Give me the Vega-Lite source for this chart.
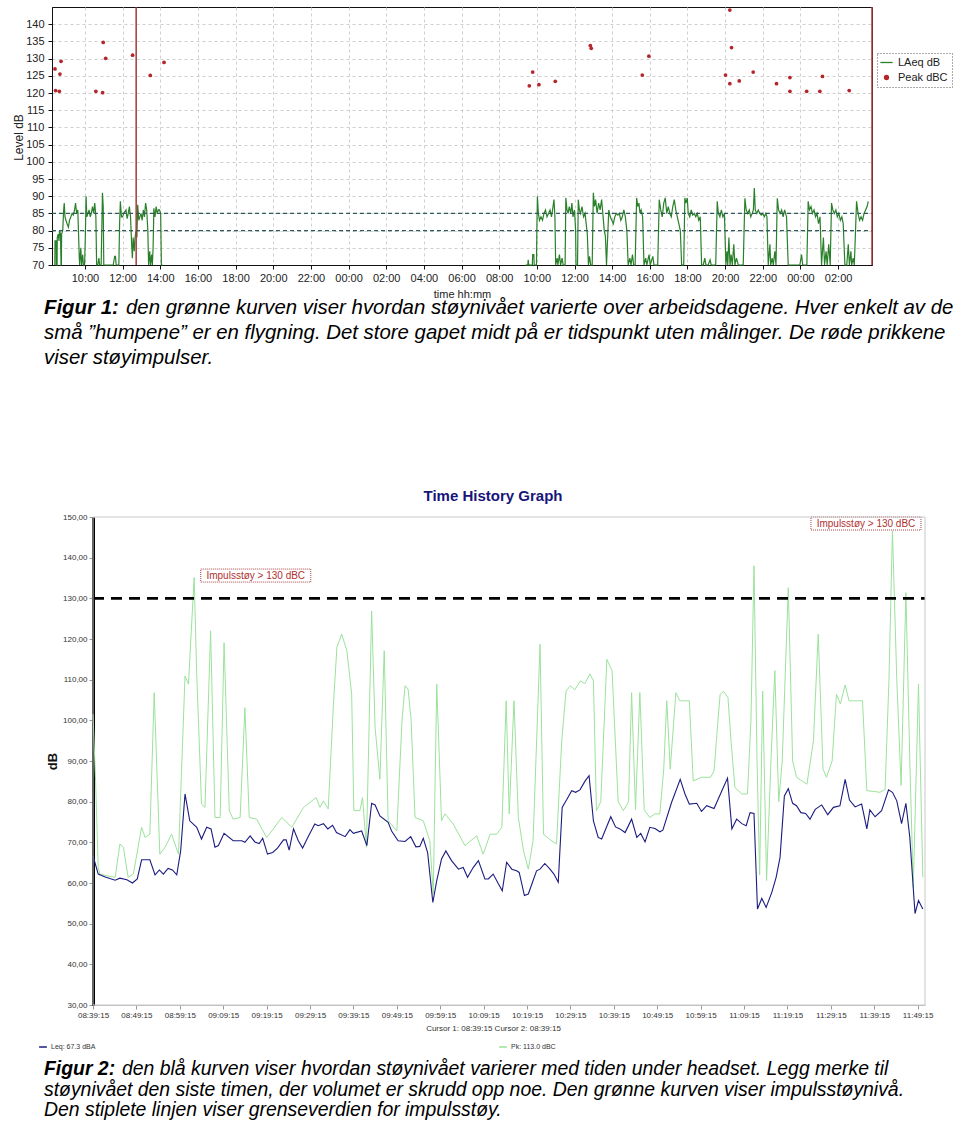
{
  "$schema": "https://vega.github.io/schema/vega-lite/v6.json",
  "background": "white",
  "padding": {"left": 11, "top": 5, "right": 0, "bottom": 0},
  "spacing": 0,
  "bounds": "flush",
  "resolve": {"scale": {"color": "independent"}, "legend": {"color": "independent"}},
  "config": {
    "font": "Liberation Sans",
    "view": {"stroke": null},
    "axis": {"labelFont": "Liberation Sans", "titleFont": "Liberation Sans"},
    "legend": {"labelFont": "Liberation Sans"},
    "title": {"font": "Liberation Sans"},
    "concat": {"spacing": 0}
  },
  "datasets": {
    "laeq": [
      {"h":8.40,"v":70,"s":1},{"h":8.41,"v":77,"s":1},{"h":8.47,"v":77,"s":1},{"h":8.48,"v":70,"s":1},{"h":8.52,"v":70,"s":1},{"h":8.53,"v":78,"s":1},{"h":8.58,"v":79,"s":1},{"h":8.62,"v":77,"s":1},{"h":8.65,"v":80,"s":1},{"h":8.70,"v":79,"s":1},{"h":8.73,"v":70,"s":1},{"h":8.75,"v":70,"s":1},{"h":8.76,"v":79,"s":1},{"h":8.82,"v":80,"s":1},{"h":8.87,"v":86,"s":1},{"h":8.90,"v":88,"s":1},{"h":8.94,"v":84,"s":1},{"h":8.99,"v":83,"s":1},{"h":9.05,"v":82,"s":1},{"h":9.12,"v":81,"s":1},{"h":9.18,"v":83,"s":1},{"h":9.25,"v":84,"s":1},{"h":9.32,"v":85,"s":1},{"h":9.38,"v":84.5,"s":1},{"h":9.45,"v":86,"s":1},{"h":9.50,"v":88,"s":1},{"h":9.56,"v":85,"s":1},{"h":9.62,"v":86,"s":1},{"h":9.66,"v":79,"s":1},{"h":9.70,"v":72,"s":1},{"h":9.72,"v":70,"s":1},{"h":9.78,"v":75,"s":1},{"h":9.82,"v":70,"s":1},{"h":9.88,"v":73,"s":1},{"h":9.92,"v":70,"s":1},{"h":9.98,"v":70,"s":1},{"h":10.02,"v":78,"s":1},{"h":10.06,"v":90,"s":1},{"h":10.10,"v":84,"s":1},{"h":10.16,"v":85,"s":1},{"h":10.22,"v":86,"s":1},{"h":10.28,"v":84,"s":1},{"h":10.34,"v":85,"s":1},{"h":10.40,"v":87,"s":1},{"h":10.46,"v":85,"s":1},{"h":10.52,"v":88,"s":1},{"h":10.58,"v":84,"s":1},{"h":10.62,"v":70,"s":1},{"h":10.68,"v":70,"s":1},{"h":10.74,"v":72,"s":1},{"h":10.78,"v":70,"s":1},{"h":10.86,"v":70,"s":1},{"h":10.90,"v":82,"s":1},{"h":10.93,"v":91,"s":1},{"h":10.97,"v":87,"s":1},{"h":11.00,"v":70,"s":1},{"h":11.50,"v":70,"s":1},{"h":11.58,"v":72.5,"s":1},{"h":11.62,"v":72.5,"s":1},{"h":11.66,"v":70,"s":1},{"h":11.80,"v":70,"s":1},{"h":11.84,"v":82,"s":1},{"h":11.88,"v":88.5,"s":1},{"h":11.94,"v":84,"s":1},{"h":12.00,"v":84,"s":1},{"h":12.06,"v":85,"s":1},{"h":12.12,"v":85.5,"s":1},{"h":12.18,"v":86,"s":1},{"h":12.24,"v":83.5,"s":1},{"h":12.30,"v":85,"s":1},{"h":12.36,"v":87,"s":1},{"h":12.42,"v":84,"s":1},{"h":12.48,"v":76,"s":1},{"h":12.52,"v":72,"s":1},{"h":12.56,"v":78,"s":1},{"h":12.62,"v":74,"s":1},{"h":12.66,"v":78,"s":1},{"h":12.72,"v":80,"s":1},{"h":12.76,"v":78,"s":1},{"h":12.80,"v":87.5,"s":1},{"h":12.86,"v":83,"s":1},{"h":12.92,"v":84,"s":1},{"h":12.98,"v":85,"s":1},{"h":13.04,"v":83,"s":1},{"h":13.10,"v":86,"s":1},{"h":13.16,"v":84,"s":1},{"h":13.22,"v":88,"s":1},{"h":13.28,"v":86,"s":1},{"h":13.34,"v":80,"s":1},{"h":13.38,"v":70,"s":1},{"h":13.44,"v":74,"s":1},{"h":13.48,"v":70,"s":1},{"h":13.54,"v":73,"s":1},{"h":13.58,"v":70,"s":1},{"h":13.62,"v":75,"s":1},{"h":13.66,"v":86.5,"s":1},{"h":13.72,"v":84,"s":1},{"h":13.78,"v":87,"s":1},{"h":13.84,"v":85,"s":1},{"h":13.90,"v":86,"s":1},{"h":13.96,"v":86,"s":1},{"h":14.02,"v":85,"s":1},{"h":14.06,"v":70,"s":1},{"h":14.12,"v":70,"s":1},
      {"h":33.40,"v":70,"s":2},{"h":33.52,"v":70,"s":2},{"h":33.54,"v":71.5,"s":2},{"h":33.57,"v":70,"s":2},{"h":33.76,"v":70,"s":2},{"h":33.78,"v":73,"s":2},{"h":33.84,"v":73,"s":2},{"h":33.86,"v":70,"s":2},{"h":33.98,"v":70,"s":2},{"h":34.00,"v":80,"s":2},{"h":34.03,"v":90,"s":2},{"h":34.08,"v":85,"s":2},{"h":34.14,"v":83,"s":2},{"h":34.22,"v":84,"s":2},{"h":34.30,"v":83,"s":2},{"h":34.38,"v":85,"s":2},{"h":34.46,"v":86,"s":2},{"h":34.54,"v":84,"s":2},{"h":34.62,"v":85,"s":2},{"h":34.70,"v":86,"s":2},{"h":34.78,"v":84,"s":2},{"h":34.86,"v":87,"s":2},{"h":34.91,"v":89,"s":2},{"h":34.96,"v":84,"s":2},{"h":35.00,"v":70,"s":2},{"h":35.08,"v":72,"s":2},{"h":35.12,"v":70,"s":2},{"h":35.20,"v":73,"s":2},{"h":35.26,"v":70,"s":2},{"h":35.34,"v":72,"s":2},{"h":35.40,"v":70,"s":2},{"h":35.50,"v":70,"s":2},{"h":35.54,"v":89.5,"s":2},{"h":35.60,"v":86,"s":2},{"h":35.66,"v":85,"s":2},{"h":35.72,"v":87,"s":2},{"h":35.80,"v":85,"s":2},{"h":35.86,"v":88,"s":2},{"h":35.92,"v":84,"s":2},{"h":36.00,"v":86,"s":2},{"h":36.06,"v":80,"s":2},{"h":36.08,"v":70,"s":2},{"h":36.16,"v":70,"s":2},{"h":36.20,"v":89,"s":2},{"h":36.26,"v":86,"s":2},{"h":36.32,"v":85,"s":2},{"h":36.40,"v":87,"s":2},{"h":36.48,"v":84,"s":2},{"h":36.56,"v":85,"s":2},{"h":36.62,"v":82,"s":2},{"h":36.68,"v":79,"s":2},{"h":36.74,"v":70,"s":2},{"h":36.80,"v":72.5,"s":2},{"h":36.86,"v":70,"s":2},{"h":36.94,"v":70,"s":2},{"h":37.00,"v":91,"s":2},{"h":37.06,"v":87,"s":2},{"h":37.12,"v":89,"s":2},{"h":37.20,"v":85,"s":2},{"h":37.28,"v":88,"s":2},{"h":37.36,"v":86,"s":2},{"h":37.44,"v":89,"s":2},{"h":37.52,"v":84,"s":2},{"h":37.58,"v":80,"s":2},{"h":37.64,"v":78.5,"s":2},{"h":37.70,"v":70,"s":2},{"h":37.76,"v":78,"s":2},{"h":37.82,"v":86,"s":2},{"h":37.90,"v":84,"s":2},{"h":37.98,"v":83,"s":2},{"h":38.06,"v":82,"s":2},{"h":38.14,"v":84,"s":2},{"h":38.22,"v":85,"s":2},{"h":38.30,"v":84.5,"s":2},{"h":38.38,"v":85,"s":2},{"h":38.46,"v":83,"s":2},{"h":38.54,"v":84,"s":2},{"h":38.62,"v":86,"s":2},{"h":38.70,"v":84,"s":2},{"h":38.78,"v":80,"s":2},{"h":38.85,"v":70,"s":2},{"h":38.94,"v":72,"s":2},{"h":39.00,"v":70,"s":2},{"h":39.08,"v":73,"s":2},{"h":39.14,"v":70,"s":2},{"h":39.22,"v":70,"s":2},{"h":39.30,"v":89.5,"s":2},{"h":39.36,"v":87,"s":2},{"h":39.42,"v":88,"s":2},{"h":39.48,"v":85,"s":2},{"h":39.54,"v":86,"s":2},{"h":39.62,"v":84,"s":2},{"h":39.69,"v":70,"s":2},{"h":39.78,"v":72,"s":2},{"h":39.84,"v":70,"s":2},{"h":39.96,"v":73,"s":2},{"h":40.02,"v":70,"s":2},{"h":40.16,"v":72.5,"s":2},{"h":40.22,"v":70,"s":2},{"h":40.42,"v":70,"s":2},{"h":40.50,"v":89,"s":2},{"h":40.58,"v":86,"s":2},{"h":40.66,"v":84,"s":2},{"h":40.74,"v":88,"s":2},{"h":40.82,"v":89.5,"s":2},{"h":40.90,"v":85,"s":2},{"h":40.98,"v":87,"s":2},{"h":41.06,"v":85,"s":2},{"h":41.14,"v":84,"s":2},{"h":41.22,"v":87,"s":2},{"h":41.30,"v":89,"s":2},{"h":41.38,"v":86,"s":2},{"h":41.46,"v":84,"s":2},{"h":41.54,"v":82,"s":2},{"h":41.62,"v":80,"s":2},{"h":41.69,"v":70,"s":2},{"h":41.80,"v":70,"s":2},{"h":41.86,"v":89.5,"s":2},{"h":41.92,"v":88,"s":2},{"h":41.99,"v":89.5,"s":2},{"h":42.04,"v":85,"s":2},{"h":42.12,"v":84,"s":2},{"h":42.20,"v":86,"s":2},{"h":42.28,"v":84.5,"s":2},{"h":42.36,"v":85,"s":2},{"h":42.44,"v":84,"s":2},{"h":42.52,"v":85,"s":2},{"h":42.60,"v":83,"s":2},{"h":42.68,"v":84,"s":2},{"h":42.75,"v":70,"s":2},{"h":42.84,"v":70,"s":2},{"h":42.92,"v":72,"s":2},{"h":42.98,"v":70,"s":2},{"h":43.10,"v":70,"s":2},{"h":43.20,"v":71.5,"s":2},{"h":43.26,"v":70,"s":2},{"h":43.50,"v":70,"s":2},{"h":43.58,"v":88.5,"s":2},{"h":43.64,"v":85,"s":2},{"h":43.72,"v":84,"s":2},{"h":43.80,"v":86,"s":2},{"h":43.88,"v":84,"s":2},{"h":43.96,"v":85,"s":2},{"h":44.04,"v":70,"s":2},{"h":44.10,"v":74,"s":2},{"h":44.14,"v":70,"s":2},{"h":44.20,"v":78,"s":2},{"h":44.26,"v":70,"s":2},{"h":44.32,"v":73,"s":2},{"h":44.38,"v":70,"s":2},{"h":44.46,"v":76,"s":2},{"h":44.52,"v":70,"s":2},{"h":44.60,"v":72,"s":2},{"h":44.70,"v":70,"s":2},{"h":44.96,"v":70,"s":2},{"h":45.05,"v":89.4,"s":2},{"h":45.12,"v":86,"s":2},{"h":45.20,"v":85,"s":2},{"h":45.28,"v":86,"s":2},{"h":45.36,"v":84,"s":2},{"h":45.44,"v":85,"s":2},{"h":45.50,"v":86,"s":2},{"h":45.55,"v":92.4,"s":2},{"h":45.60,"v":86,"s":2},{"h":45.68,"v":85,"s":2},{"h":45.76,"v":86,"s":2},{"h":45.84,"v":85,"s":2},{"h":45.92,"v":84.5,"s":2},{"h":46.00,"v":85,"s":2},{"h":46.08,"v":84,"s":2},{"h":46.16,"v":85,"s":2},{"h":46.22,"v":84,"s":2},{"h":46.29,"v":70,"s":2},{"h":46.38,"v":76,"s":2},{"h":46.42,"v":70,"s":2},{"h":46.50,"v":72,"s":2},{"h":46.56,"v":70,"s":2},{"h":46.64,"v":74,"s":2},{"h":46.70,"v":70,"s":2},{"h":46.77,"v":89.4,"s":2},{"h":46.84,"v":86,"s":2},{"h":46.92,"v":85,"s":2},{"h":47.00,"v":86,"s":2},{"h":47.08,"v":84,"s":2},{"h":47.16,"v":86,"s":2},{"h":47.26,"v":84,"s":2},{"h":47.35,"v":70,"s":2},{"h":47.97,"v":70,"s":2},{"h":48.06,"v":73,"s":2},{"h":48.12,"v":70,"s":2},{"h":48.34,"v":70,"s":2},{"h":48.41,"v":88.5,"s":2},{"h":48.48,"v":86,"s":2},{"h":48.56,"v":87,"s":2},{"h":48.64,"v":85,"s":2},{"h":48.72,"v":86,"s":2},{"h":48.80,"v":84,"s":2},{"h":48.88,"v":85,"s":2},{"h":48.96,"v":82,"s":2},{"h":49.04,"v":84,"s":2},{"h":49.12,"v":70,"s":2},{"h":49.22,"v":78,"s":2},{"h":49.28,"v":70,"s":2},{"h":49.36,"v":74,"s":2},{"h":49.42,"v":70,"s":2},{"h":49.50,"v":76,"s":2},{"h":49.58,"v":70,"s":2},{"h":49.65,"v":88,"s":2},{"h":49.72,"v":86,"s":2},{"h":49.80,"v":85,"s":2},{"h":49.88,"v":86,"s":2},{"h":49.96,"v":84,"s":2},{"h":50.04,"v":85,"s":2},{"h":50.12,"v":83,"s":2},{"h":50.20,"v":84,"s":2},{"h":50.27,"v":82,"s":2},{"h":50.36,"v":70,"s":2},{"h":50.46,"v":70,"s":2},{"h":50.54,"v":76,"s":2},{"h":50.60,"v":70,"s":2},{"h":50.68,"v":74,"s":2},{"h":50.72,"v":70,"s":2},{"h":50.80,"v":72,"s":2},{"h":50.86,"v":70,"s":2},{"h":50.98,"v":88.5,"s":2},{"h":51.06,"v":85,"s":2},{"h":51.14,"v":83,"s":2},{"h":51.22,"v":84,"s":2},{"h":51.30,"v":83,"s":2},{"h":51.38,"v":85,"s":2},{"h":51.46,"v":86,"s":2},{"h":51.54,"v":87,"s":2},{"h":51.60,"v":88.5,"s":2}
    ],
    "peak": [
      {"h":8.41,"v":127.0},{"h":8.73,"v":129.2},{"h":8.67,"v":125.5},{"h":8.44,"v":120.7},{"h":8.64,"v":120.5},{"h":10.58,"v":120.5},{"h":10.94,"v":120.1},{"h":10.97,"v":134.7},{"h":11.10,"v":130.1},{"h":12.53,"v":131.0},{"h":13.47,"v":125.1},{"h":14.20,"v":128.9},
      {"h":33.78,"v":126.1},{"h":33.60,"v":122.1},{"h":34.11,"v":122.4},{"h":34.98,"v":123.4},{"h":36.84,"v":133.8},{"h":36.89,"v":133.0},{"h":39.60,"v":125.2},{"h":39.95,"v":130.7},{"h":44.25,"v":144.1},{"h":44.34,"v":133.2},{"h":44.02,"v":125.2},{"h":44.25,"v":122.7},{"h":44.75,"v":123.5},{"h":45.49,"v":126.1},{"h":46.73,"v":122.7},{"h":47.44,"v":124.5},{"h":47.44,"v":120.5},{"h":48.33,"v":120.5},{"h":49.03,"v":120.5},{"h":49.17,"v":124.8},{"h":50.59,"v":120.7}
    ],
    "thr": [{"h": 8.25, "v": 85}, {"h": 8.25, "v": 80}],
    "cursor": [{"h": 12.72, "v": 70}, {"h": 51.8, "v": 70}],
    "leq": [
      {"m":0.0,"v":66.7},{"m":1.2,"v":62.2},{"m":2.8,"v":61.5},{"m":5.1,"v":60.7},{"m":6.2,"v":61.2},{"m":7.8,"v":60.8},{"m":9.1,"v":60.0},{"m":10.2,"v":61.0},{"m":11.2,"v":65.7},{"m":13.1,"v":65.7},{"m":14.3,"v":62.0},{"m":15.3,"v":63.2},{"m":16.2,"v":62.2},{"m":17.3,"v":63.6},{"m":18.3,"v":63.2},{"m":19.3,"v":62.0},{"m":20.2,"v":67.9},{"m":21.2,"v":81.9},{"m":22.3,"v":75.3},{"m":23.9,"v":73.7},{"m":25.0,"v":70.8},{"m":26.2,"v":73.7},{"m":27.2,"v":73.3},{"m":28.1,"v":68.8},{"m":28.9,"v":69.2},{"m":30.2,"v":72.2},{"m":32.3,"v":70.4},{"m":34.3,"v":70.4},{"m":35.0,"v":70.0},{"m":36.2,"v":71.6},{"m":37.3,"v":70.1},{"m":38.3,"v":69.7},{"m":39.1,"v":71.0},{"m":40.2,"v":67.1},{"m":41.4,"v":67.5},{"m":42.5,"v":68.6},{"m":43.9,"v":70.6},{"m":44.5,"v":70.6},{"m":45.2,"v":68.1},{"m":46.2,"v":73.3},{"m":47.3,"v":70.4},{"m":48.3,"v":68.6},{"m":49.4,"v":71.0},{"m":51.1,"v":74.5},{"m":51.9,"v":74.1},{"m":53.1,"v":74.6},{"m":54.1,"v":73.3},{"m":55.2,"v":74.2},{"m":56.1,"v":72.4},{"m":58.1,"v":71.4},{"m":59.2,"v":73.1},{"m":60.0,"v":72.2},{"m":61.9,"v":72.8},{"m":63.1,"v":69.2},{"m":64.2,"v":79.6},{"m":65.0,"v":79.2},{"m":66.1,"v":76.5},{"m":68.0,"v":74.9},{"m":68.8,"v":72.8},{"m":70.3,"v":70.4},{"m":71.9,"v":70.2},{"m":73.2,"v":71.4},{"m":74.4,"v":68.9},{"m":75.3,"v":69.0},{"m":76.1,"v":71.0},{"m":77.1,"v":67.5},{"m":78.3,"v":55.2},{"m":79.2,"v":60.6},{"m":80.3,"v":65.9},{"m":81.3,"v":67.9},{"m":82.6,"v":65.5},{"m":84.2,"v":63.4},{"m":85.3,"v":63.8},{"m":86.3,"v":61.4},{"m":87.6,"v":63.8},{"m":88.8,"v":65.5},{"m":90.3,"v":61.0},{"m":91.1,"v":61.0},{"m":92.2,"v":62.2},{"m":93.4,"v":59.8},{"m":94.3,"v":58.1},{"m":95.3,"v":65.1},{"m":96.5,"v":63.4},{"m":97.6,"v":63.0},{"m":98.2,"v":62.6},{"m":99.4,"v":56.9},{"m":100.3,"v":57.3},{"m":102.2,"v":63.0},{"m":103.0,"v":63.4},{"m":104.1,"v":64.8},{"m":105.3,"v":63.4},{"m":106.2,"v":62.2},{"m":107.2,"v":60.2},{"m":108.1,"v":78.6},{"m":109.1,"v":80.4},{"m":110.3,"v":82.7},{"m":111.2,"v":82.3},{"m":112.2,"v":82.9},{"m":113.4,"v":85.1},{"m":114.3,"v":86.4},{"m":115.3,"v":75.3},{"m":116.4,"v":71.2},{"m":117.2,"v":70.8},{"m":118.3,"v":73.7},{"m":119.3,"v":76.3},{"m":120.4,"v":73.8},{"m":121.4,"v":73.3},{"m":122.6,"v":72.4},{"m":124.1,"v":75.7},{"m":125.3,"v":71.2},{"m":126.2,"v":72.2},{"m":127.2,"v":70.1},{"m":128.3,"v":73.7},{"m":129.5,"v":73.4},{"m":130.6,"v":72.6},{"m":131.3,"v":73.0},{"m":133.3,"v":79.8},{"m":135.3,"v":85.5},{"m":136.4,"v":81.9},{"m":137.4,"v":79.4},{"m":139.1,"v":79.6},{"m":140.2,"v":77.6},{"m":141.4,"v":79.0},{"m":143.1,"v":78.3},{"m":144.9,"v":82.7},{"m":146.2,"v":85.8},{"m":147.2,"v":73.3},{"m":148.3,"v":75.7},{"m":149.5,"v":74.6},{"m":150.5,"v":74.1},{"m":151.4,"v":77.3},{"m":152.3,"v":77.1},{"m":153.1,"v":53.6},{"m":154.1,"v":56.2},{"m":155.1,"v":54.0},{"m":156.4,"v":57.7},{"m":157.4,"v":61.4},{"m":158.3,"v":66.3},{"m":159.3,"v":81.4},{"m":160.2,"v":83.2},{"m":161.2,"v":79.6},{"m":162.1,"v":79.0},{"m":163.1,"v":77.3},{"m":164.2,"v":77.1},{"m":165.2,"v":75.7},{"m":166.4,"v":78.1},{"m":167.9,"v":79.2},{"m":169.3,"v":76.8},{"m":170.6,"v":78.6},{"m":172.1,"v":79.0},{"m":173.3,"v":85.5},{"m":174.3,"v":80.4},{"m":175.6,"v":78.7},{"m":177.1,"v":79.4},{"m":178.3,"v":73.3},{"m":179.0,"v":78.0},{"m":180.2,"v":76.3},{"m":181.7,"v":77.8},{"m":183.3,"v":82.9},{"m":184.2,"v":82.3},{"m":185.2,"v":80.2},{"m":186.3,"v":74.6},{"m":187.3,"v":79.6},{"m":188.2,"v":71.2},{"m":189.4,"v":52.5},{"m":190.2,"v":55.7},{"m":191.2,"v":53.6}
    ],
    "pk": [
      {"m":0.0,"v":101.5},{"m":0.6,"v":85},{"m":1.2,"v":63.8},{"m":1.6,"v":62.2},{"m":3.0,"v":61.8},{"m":5.1,"v":61.4},{"m":6.2,"v":69.6},{"m":7.0,"v":68.8},{"m":8.1,"v":61.4},{"m":9.3,"v":62.2},{"m":11.2,"v":73.7},{"m":12.0,"v":71.2},{"m":13.1,"v":72.0},{"m":14.1,"v":106.8},{"m":15.4,"v":67.1},{"m":16.6,"v":68.8},{"m":18.1,"v":72.0},{"m":19.7,"v":67.1},{"m":21.2,"v":110.9},{"m":22.0,"v":108.9},{"m":23.3,"v":135.1},{"m":23.9,"v":111.3},{"m":25.0,"v":79.4},{"m":25.8,"v":78.6},{"m":27.1,"v":122.0},{"m":28.1,"v":76.1},{"m":29.3,"v":76.1},{"m":30.2,"v":119.1},{"m":31.4,"v":77.8},{"m":32.3,"v":75.7},{"m":33.9,"v":76.1},{"m":35.0,"v":103.1},{"m":36.0,"v":76.1},{"m":37.7,"v":75.7},{"m":40.0,"v":71.2},{"m":41.2,"v":72.8},{"m":43.5,"v":76.1},{"m":45.8,"v":73.7},{"m":48.5,"v":78.6},{"m":51.4,"v":81.0},{"m":52.3,"v":78.6},{"m":53.1,"v":80.2},{"m":54.2,"v":78.2},{"m":55.4,"v":104.0},{"m":56.2,"v":118},{"m":57.3,"v":121.2},{"m":58.5,"v":117.1},{"m":59.6,"v":106.4},{"m":60.1,"v":77.8},{"m":61.5,"v":77.8},{"m":62.1,"v":81.0},{"m":63.0,"v":68.8},{"m":64.2,"v":126.9},{"m":65.0,"v":98.2},{"m":66.1,"v":85.5},{"m":67.1,"v":117.1},{"m":68.0,"v":75.3},{"m":70.0,"v":72.8},{"m":71.2,"v":100},{"m":71.9,"v":108.5},{"m":72.6,"v":107.7},{"m":73.3,"v":100},{"m":74.2,"v":76.1},{"m":76.1,"v":75.3},{"m":77.6,"v":70.4},{"m":78.4,"v":57.3},{"m":79.2,"v":108.9},{"m":80.3,"v":75.3},{"m":81.1,"v":77.0},{"m":83.0,"v":74.5},{"m":85.7,"v":69.2},{"m":88.4,"v":71.6},{"m":89.9,"v":67.1},{"m":91.5,"v":72.0},{"m":93.0,"v":72.0},{"m":94.2,"v":73.7},{"m":95.2,"v":104.8},{"m":95.9,"v":77.0},{"m":97.0,"v":104.8},{"m":98.0,"v":76.1},{"m":99.2,"v":67.9},{"m":100.3,"v":63.4},{"m":101.4,"v":70.4},{"m":103.0,"v":118.7},{"m":103.8,"v":72.0},{"m":105.5,"v":70.5},{"m":106.8,"v":69.6},{"m":108.0,"v":95},{"m":109.0,"v":107.2},{"m":110.0,"v":108.5},{"m":111.0,"v":107.5},{"m":112.3,"v":109.7},{"m":113.3,"v":109.0},{"m":114.5,"v":111.4},{"m":115.3,"v":109.7},{"m":116.0,"v":77.8},{"m":117.0,"v":80.0},{"m":118.4,"v":115.0},{"m":119.6,"v":112.2},{"m":121.0,"v":80.0},{"m":122.2,"v":77.8},{"m":123.4,"v":80.0},{"m":124.1,"v":106.8},{"m":125.0,"v":78.0},{"m":126.0,"v":106.8},{"m":127.0,"v":78.0},{"m":128.3,"v":76.1},{"m":129.5,"v":77.0},{"m":130.6,"v":77.0},{"m":131.5,"v":88},{"m":132.2,"v":104.8},{"m":133.0,"v":88},{"m":134.3,"v":106.8},{"m":135.2,"v":104.8},{"m":136.3,"v":104.8},{"m":137.4,"v":104.8},{"m":138.3,"v":85.1},{"m":140.2,"v":86.0},{"m":142.3,"v":86.0},{"m":143.1,"v":87.6},{"m":144.0,"v":100},{"m":144.5,"v":106.4},{"m":145.3,"v":107.1},{"m":146.3,"v":105.6},{"m":147.0,"v":95},{"m":147.9,"v":83.5},{"m":149.5,"v":81.9},{"m":150.8,"v":81.9},{"m":151.6,"v":100},{"m":152.3,"v":138.0},{"m":153.0,"v":90},{"m":153.6,"v":62},{"m":154.3,"v":107.2},{"m":155.2,"v":60.6},{"m":156.2,"v":90},{"m":157.1,"v":112.2},{"m":158.0,"v":80},{"m":158.8,"v":90},{"m":160.2,"v":132.6},{"m":161.2,"v":90},{"m":162.1,"v":86.0},{"m":163.5,"v":85},{"m":164.5,"v":84.3},{"m":166.0,"v":95},{"m":167.1,"v":121.2},{"m":168.2,"v":88},{"m":169.0,"v":86.0},{"m":170.3,"v":90},{"m":171.3,"v":106.4},{"m":172.2,"v":104},{"m":173.3,"v":108.7},{"m":174.2,"v":104.8},{"m":175.2,"v":104.8},{"m":176.2,"v":104.8},{"m":177.3,"v":104.8},{"m":178.3,"v":82.7},{"m":180.0,"v":82.5},{"m":181.3,"v":82.3},{"m":182.5,"v":83},{"m":183.4,"v":110},{"m":184.2,"v":146.6},{"m":185.2,"v":110},{"m":186.2,"v":84},{"m":187.3,"v":131.4},{"m":188.2,"v":90},{"m":189.0,"v":58.9},{"m":190.2,"v":108.9},{"m":191.2,"v":61.4}
    ],
    "cap1": [
      {"line": 1, "b": "Figur 1:", "t": "den grønne kurven viser hvordan støynivået varierte over arbeidsdagene. Hver enkelt av de"},
      {"line": 2, "b": "", "t": "små ”humpene” er en flygning. Det store gapet midt på er tidspunkt uten målinger. De røde prikkene"},
      {"line": 3, "b": "", "t": "viser støyimpulser."}
    ],
    "cap2": [
      {"line": 1, "b": "Figur 2:", "t": "den blå kurven viser hvordan støynivået varierer med tiden under headset. Legg merke til"},
      {"line": 2, "b": "", "t": "støynivået den siste timen, der volumet er skrudd opp noe. Den grønne kurven viser impulsstøynivå."},
      {"line": 3, "b": "", "t": "Den stiplete linjen viser grenseverdien for impulsstøy."}
    ]
  },
  "vconcat": [
    {
      "width": 820,
      "height": 258,
      "view": {"stroke": "#111", "strokeWidth": 1},
      "encoding": {
        "x": {"field": "h", "type": "quantitative",
          "scale": {"domain": [8.25, 51.8], "nice": false, "zero": false},
          "axis": {"values": [10,12,14,16,18,20,22,24,26,28,30,32,34,36,38,40,42,44,46,48,50],
            "labelExpr": "(datum.value % 24 < 10 ? '0' : '') + (datum.value % 24) + ':00'",
            "labelOverlap": false, "labelFlush": false,
            "grid": true, "gridDash": [3,3], "gridColor": "#cfcfcf",
            "labelFontSize": 11, "labelColor": "#222", "labelPadding": 3,
            "domainColor": "#111", "tickColor": "#111", "tickSize": 4,
            "title": "time hh:mm", "titleFontSize": 11, "titleFontWeight": "normal", "titleColor": "#222",
            "titleY": 29, "titleBaseline": "middle"}},
        "y": {"field": "v", "type": "quantitative",
          "scale": {"domain": [70, 145], "nice": false, "zero": false},
          "axis": {"values": [70,75,80,85,90,95,100,105,110,115,120,125,130,135,140],
            "labelOverlap": false, "labelFlush": false,
            "grid": true, "gridDash": [3,3], "gridColor": "#cfcfcf",
            "labelFontSize": 11, "labelColor": "#222", "labelPadding": 4,
            "domainColor": "#111", "tickColor": "#111", "tickSize": 4,
            "title": "Level dB", "titleFontSize": 12, "titleFontWeight": "normal", "titleColor": "#222",
            "titleAngle": 270, "titleBaseline": "alphabetic", "titleX": -30, "titleY": 130}}
      },
      "layer": [
        {
          "data": {"name": "laeq"},
          "mark": {"type": "line", "strokeWidth": 1.2, "interpolate": "linear"},
          "encoding": {
            "detail": {"field": "s", "type": "nominal"},
            "color": {"datum": "LAeq dB", "type": "nominal",
              "scale": {"domain": ["LAeq dB", "Peak dBC"], "range": ["#2a802a", "#b5262b"]},
              "legend": {"orient": "none", "legendX": 825, "legendY": 46, "title": null,
                "labelFontSize": 11, "labelColor": "#222", "padding": 4,
                "strokeColor": "#555", "fillColor": "white",
                "rowPadding": 3, "labelOffset": 6,
                "encode": {
                  "legend": {"update": {"strokeDash": {"value": [1, 2]}}},
                  "symbols": {"update": {
                  "shape": {"signal": "datum.value === 'LAeq dB' ? 'stroke' : 'circle'"},
                  "size": {"signal": "datum.value === 'LAeq dB' ? 150 : 16"},
                  "stroke": {"signal": "datum.value === 'LAeq dB' ? '#2a802a' : '#b5262b'"},
                  "fill": {"signal": "datum.value === 'LAeq dB' ? 'transparent' : '#b5262b'"},
                  "strokeWidth": {"value": 1.3},
                  "opacity": {"value": 1}
                }}}}}
          }
        },
        {
          "data": {"name": "thr"},
          "mark": {"type": "rule", "strokeDash": [4, 3], "color": "#2f5a5a", "strokeWidth": 1.3},
          "encoding": {"x2": {"datum": 51.8}}
        },
        {
          "data": {"name": "cursor"},
          "mark": {"type": "rule", "color": "#a33a3a", "strokeWidth": 1.5},
          "encoding": {"y2": {"datum": 145}}
        },
        {
          "data": {"name": "peak"},
          "mark": {"type": "point", "filled": true, "shape": "circle", "size": 14, "opacity": 1},
          "encoding": {
            "color": {"datum": "Peak dBC", "type": "nominal"}
          }
        }
      ]
    },
    {
      "width": 820,
      "height": 252,
      "data": {"name": "cap1"},
      "encoding": {"y": {"field": "line", "type": "quantitative", "scale": {"domain": [9.36, -0.72], "nice": false, "zero": false}, "axis": null}},
      "layer": [
        {"transform": [{"filter": "datum.line == 1"}],
         "mark": {"type": "text", "align": "left", "baseline": "middle", "x": -8, "fontSize": 20.4, "fontStyle": "italic", "fontWeight": "bold", "color": "#000"},
         "encoding": {"text": {"field": "b"}}},
        {"transform": [{"filter": "datum.line == 1"}],
         "mark": {"type": "text", "align": "left", "baseline": "middle", "x": 74, "fontSize": 20.4, "fontStyle": "italic", "color": "#000"},
         "encoding": {"text": {"field": "t"}}},
        {"transform": [{"filter": "datum.line > 1"}],
         "mark": {"type": "text", "align": "left", "baseline": "middle", "x": -8, "fontSize": 20.4, "fontStyle": "italic", "color": "#000"},
         "encoding": {"text": {"field": "t"}}}
      ]
    },
    {
      "width": 873,
      "height": 488,
      "title": {"text": "Time History Graph", "fontSize": 15, "fontWeight": "bold", "color": "#16167a", "anchor": "middle", "offset": 9, "dx": 4.5},
      "layer": [
        {
          "data": {"name": "pk"},
          "mark": {"type": "line", "strokeWidth": 1},
          "encoding": {
            "x": {"field": "m", "type": "quantitative",
              "scale": {"domain": [0, 191.7], "range": [41, 873], "nice": false, "zero": false},
              "axis": {"values": [0,10,20,30,40,50,60,70,80,90,100,110,120,130,140,150,160,170,180,190],
                "labelExpr": "(floor((519 + datum.value) / 60) < 10 ? '0' : '') + floor((519 + datum.value) / 60) + ':' + ((519 + datum.value) % 60 < 10 ? '0' : '') + ((519 + datum.value) % 60) + ':15'",
                "labelOverlap": false, "labelFlush": false,
                "labelFontSize": 8, "labelColor": "#333", "labelPadding": 2,
                "tickColor": "#999", "tickSize": 4, "domainColor": "#bbb", "grid": false,
                "title": "Cursor 1: 08:39:15    Cursor 2: 08:39:15", "titleFontSize": 8, "titleFontWeight": "normal", "titleColor": "#333",
                "titleX": 441, "titleY": 23, "titleBaseline": "middle"}},
            "y": {"field": "v", "type": "quantitative",
              "scale": {"domain": [30, 150], "nice": false, "zero": false},
              "axis": {"values": [30,40,50,60,70,80,90,100,110,120,130,140,150],
                "labelExpr": "replace(format(datum.value, '.2f'), '.', ',')",
                "labelOverlap": false, "labelFlush": false, "offset": -41,
                "labelFontSize": 8, "labelColor": "#333", "labelPadding": 2,
                "domainColor": "#000", "domainWidth": 3, "tickColor": "#999", "tickSize": 4, "grid": false,
                "title": "dB", "titleFontSize": 13, "titleFontWeight": "bold", "titleColor": "#111",
                "titleAngle": 270, "titleBaseline": "alphabetic", "titleX": -37, "titleY": 244}},
            "color": {"datum": "Pk: 113.0 dBC", "type": "nominal",
              "scale": {"domain": ["Leq: 67.3 dBA", "Pk: 113.0 dBC"], "range": ["#1c1c80", "#9be29b"]},
              "legend": {"orient": "none", "legendX": -14, "legendY": 525, "direction": "horizontal", "title": null,
                "labelFontSize": 7, "labelColor": "#333", "symbolType": "stroke", "symbolSize": 60, "symbolStrokeWidth": 1.5,
                "columnPadding": 400, "labelOffset": 3}}
          }
        },
        {
          "data": {"name": "leq"},
          "mark": {"type": "line", "strokeWidth": 1.1},
          "encoding": {
            "x": {"field": "m", "type": "quantitative"},
            "y": {"field": "v", "type": "quantitative"},
            "color": {"datum": "Leq: 67.3 dBA", "type": "nominal"}
          }
        },
        {
          "data": {"values": [{"v": 130}]},
          "mark": {"type": "rule", "strokeDash": [11, 7], "strokeWidth": 2.6, "color": "#000"},
          "encoding": {"y": {"field": "v", "type": "quantitative"}, "x": {"datum": 0, "type": "quantitative"}, "x2": {"datum": 191.7}}
        },
        {
          "data": {"values": [{"m": 37.5, "v": 135.6, "label": "Impulsstøy > 130 dBC"}, {"m": 178.1, "v": 148.4, "label": "Impulsstøy > 130 dBC"}]},
          "mark": {"type": "rect", "fill": "white", "fillOpacity": 0, "stroke": "#a84040", "strokeWidth": 1, "strokeDash": [1, 1], "xOffset": -55, "x2Offset": 55, "yOffset": -6.5, "y2Offset": 6.5},
          "encoding": {
            "x": {"field": "m", "type": "quantitative"},
            "x2": {"field": "m"},
            "y": {"field": "v", "type": "quantitative"},
            "y2": {"field": "v"}
          }
        },
        {
          "data": {"values": [{"m": 37.5, "v": 135.6, "label": "Impulsstøy > 130 dBC"}, {"m": 178.1, "v": 148.4, "label": "Impulsstøy > 130 dBC"}]},
          "mark": {"type": "text", "fontSize": 10, "color": "#b03030", "align": "center", "baseline": "middle"},
          "encoding": {
            "x": {"field": "m", "type": "quantitative"},
            "y": {"field": "v", "type": "quantitative"},
            "text": {"field": "label"}
          }
        },
        {
          "data": {"values": [{}]},
          "mark": {"type": "rect", "fill": "transparent", "stroke": "#c8c8c8", "strokeWidth": 1},
          "encoding": {"x": {"datum": 0, "type": "quantitative"}, "x2": {"datum": 191.7}, "y": {"datum": 30, "type": "quantitative"}, "y2": {"datum": 150}}
        }
      ]
    },
    {
      "width": 820,
      "height": 117,
      "data": {"name": "cap2"},
      "encoding": {"y": {"field": "line", "type": "quantitative", "scale": {"domain": [3.585, -2.122], "nice": false, "zero": false}, "axis": null}},
      "layer": [
        {"transform": [{"filter": "datum.line == 1"}],
         "mark": {"type": "text", "align": "left", "baseline": "middle", "x": -8, "fontSize": 19.4, "fontStyle": "italic", "fontWeight": "bold", "color": "#000"},
         "encoding": {"text": {"field": "b"}}},
        {"transform": [{"filter": "datum.line == 1"}],
         "mark": {"type": "text", "align": "left", "baseline": "middle", "x": 70, "fontSize": 19.4, "fontStyle": "italic", "color": "#000"},
         "encoding": {"text": {"field": "t"}}},
        {"transform": [{"filter": "datum.line > 1"}],
         "mark": {"type": "text", "align": "left", "baseline": "middle", "x": -8, "fontSize": 19.4, "fontStyle": "italic", "color": "#000"},
         "encoding": {"text": {"field": "t"}}}
      ]
    }
  ]
}
